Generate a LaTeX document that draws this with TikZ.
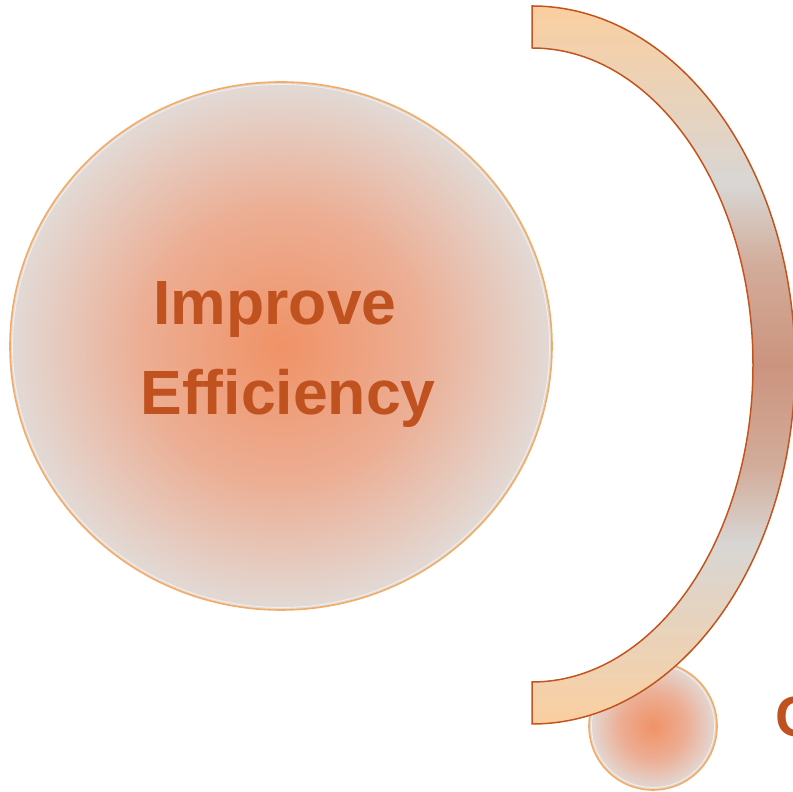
\documentclass[tikz,border=0pt]{standalone}
\usepackage{fontspec}
\setmainfont{Liberation Sans}
\definecolor{txtc}{RGB}{192,82,31}
\definecolor{arcline}{RGB}{196,84,30}
\definecolor{circline}{RGB}{243,172,104}
\definecolor{glowc}{RGB}{240,146,102}
\definecolor{glowm}{RGB}{236,174,148}
\definecolor{glowe}{RGB}{226,218,214}
\definecolor{peach}{RGB}{250,207,160}
\definecolor{greyc}{RGB}{216,214,212}
\definecolor{brownl}{RGB}{210,172,154}
\definecolor{brownc}{RGB}{204,148,126}
\pgfdeclareradialshading{glow}{\pgfpoint{0bp}{0bp}}{color(0bp)=(glowc); color(13bp)=(glowm); color(25bp)=(glowe); color(50bp)=(glowe)}
\pgfdeclareverticalshading{arcshade}{100bp}{color(0bp)=(peach); color(25bp)=(peach); color(37.5bp)=(greyc); color(43bp)=(brownl); color(50bp)=(brownc); color(57bp)=(brownl); color(62.5bp)=(greyc); color(75bp)=(peach); color(100bp)=(peach)}
\tikzset{
  bubble/.style={shading=glow, draw=circline, line width=1.6pt},
  bandarc/.style={shading=arcshade, draw=arcline, line width=1.5pt},
  bigtext/.style={text=txtc, font=\fontsize{62.5}{90}\selectfont\bfseries, align=center, inner sep=0pt},
  sidetext/.style={text=txtc, font=\fontsize{57}{68}\selectfont\bfseries, inner sep=0pt}
}
\begin{document}
\begin{tikzpicture}[x=1pt,y=1pt]
\useasboundingbox (0,0) rectangle (793,792);
% big circle
\path[bubble] (281,446) ellipse [x radius=271pt, y radius=264pt];
\draw[white, opacity=0.6, line width=0.8pt] (281,446) ellipse [x radius=268.5pt, y radius=261.5pt];
\node[bigtext] (main) at (281,438) {Improve\hspace*{12pt}\\\hspace*{14pt}Efficiency};
% small circle
\path[bubble] (653,66) circle [radius=64pt];
\draw[white, opacity=0.6, line width=0.8pt] (653,66) circle [radius=61.5pt];
% band arc
\path[bandarc] (532,786) arc[start angle=90, end angle=-90, x radius=263pt, y radius=359pt]
  -- (532,110) arc[start angle=-90, end angle=90, x radius=221pt, y radius=317pt] -- cycle;
% side text (cut at the page edge, as in the reference)
\node[sidetext, anchor=base west] (side) at (775.5,55) {C};
\end{tikzpicture}
\end{document}
